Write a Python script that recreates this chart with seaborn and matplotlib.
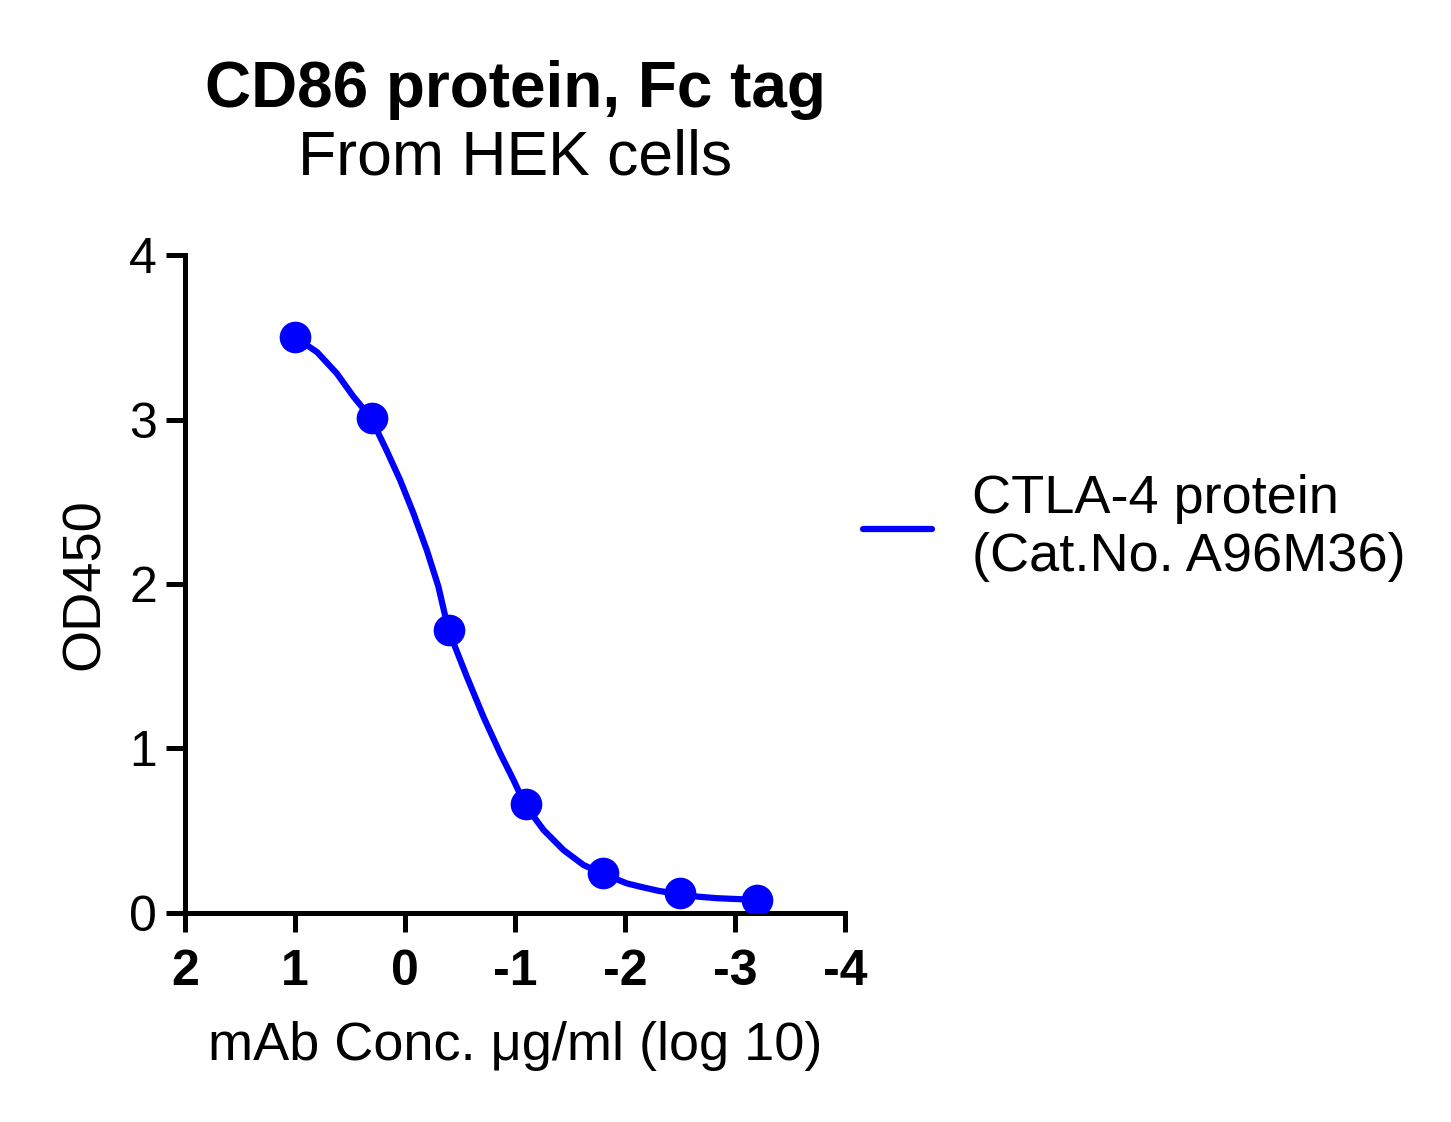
import numpy as np
import pandas as pd
import matplotlib
matplotlib.use('Agg')
import matplotlib.pyplot as plt
import seaborn as sns

# measured points (log10 conc, OD450)
log_conc = [1.0, 0.3, -0.4, -1.1, -1.8, -2.5, -3.2]
od450 = [3.50, 3.01, 1.72, 0.66, 0.24, 0.12, 0.08]

# fitted curve
curve_x = [1.0, 0.80, 0.62, 0.47, 0.31, 0.17, 0.045, -0.076, -0.197, -0.303,
           -0.394, -0.561, -0.712, -0.864, -0.985, -1.091, -1.258, -1.439,
           -1.621, -1.788, -2.015, -2.136, -2.30, -2.48, -2.65, -2.83, -3.0, -3.2]
curve_y = [3.50, 3.41, 3.28, 3.14, 3.01, 2.815, 2.632, 2.43, 2.207, 1.984,
           1.72, 1.437, 1.193, 0.971, 0.809, 0.657, 0.505, 0.383,
           0.292, 0.241, 0.18, 0.16, 0.135, 0.115, 0.10, 0.09, 0.085, 0.08]

series_name = 'CTLA-4 protein\n(Cat.No. A96M36)'
x_ticks = [2, 1, 0, -1, -2, -3, -4]
y_ticks = [0, 1, 2, 3, 4]

blue = '#0000FF'

sns.set_style('ticks')
plt.rcParams['font.family'] = ['Liberation Sans', 'DejaVu Sans']
plt.rcParams['text.color'] = 'black'
plt.rcParams['axes.labelcolor'] = 'black'
plt.rcParams['xtick.color'] = 'black'
plt.rcParams['ytick.color'] = 'black'

pts = pd.DataFrame({'x': log_conc, 'y': od450})
fit = pd.DataFrame({'x': curve_x, 'y': curve_y})

fig = plt.figure(figsize=(14.51, 11.22), dpi=100)
ax = fig.add_axes([0.1275, 0.1863, 0.455, 0.5864])

sns.lineplot(data=fit, x='x', y='y', ax=ax, color=blue, linewidth=4.5,
             label=series_name, sort=False, solid_joinstyle='round',
             solid_capstyle='round')
sns.scatterplot(data=pts, x='x', y='y', ax=ax, color=blue, s=520,
                edgecolor=blue, linewidth=0, zorder=3)

ax.set_xlim(2, -4)
ax.set_ylim(0, 4)
ax.set_xticks(x_ticks)
ax.set_yticks(y_ticks)
ax.set_xticklabels([str(t) for t in x_ticks], fontsize=36, fontweight='bold')
ax.set_yticklabels([str(t) for t in y_ticks], fontsize=36)
ax.tick_params(axis='both', width=3.6, length=14, color='black')
ax.tick_params(axis='x', pad=12)
ax.tick_params(axis='y', pad=6)
for side in ['left', 'bottom']:
    ax.spines[side].set_linewidth(3.6)
    ax.spines[side].set_color('black')
sns.despine(ax=ax)

ax.set_xlabel('mAb Conc. \u03bcg/ml (log 10)', fontsize=39, labelpad=19)
ax.set_ylabel('OD450', fontsize=39, labelpad=14)

leg = ax.legend(loc='center left', bbox_to_anchor=(1.027, 0.585), frameon=False,
                fontsize=39, handlelength=1.28, handletextpad=0.74,
                borderpad=0, borderaxespad=0, labelspacing=0)
for h in leg.get_lines():
    h.set_linewidth(4.5)

fig.text(0.355, 0.920, 'CD86 protein, Fc tag', ha='center', va='center',
         fontsize=46, fontweight='bold')
fig.text(0.355, 0.859, 'From HEK cells', ha='center', va='center', fontsize=45)

fig.savefig('out.png', dpi=100)
